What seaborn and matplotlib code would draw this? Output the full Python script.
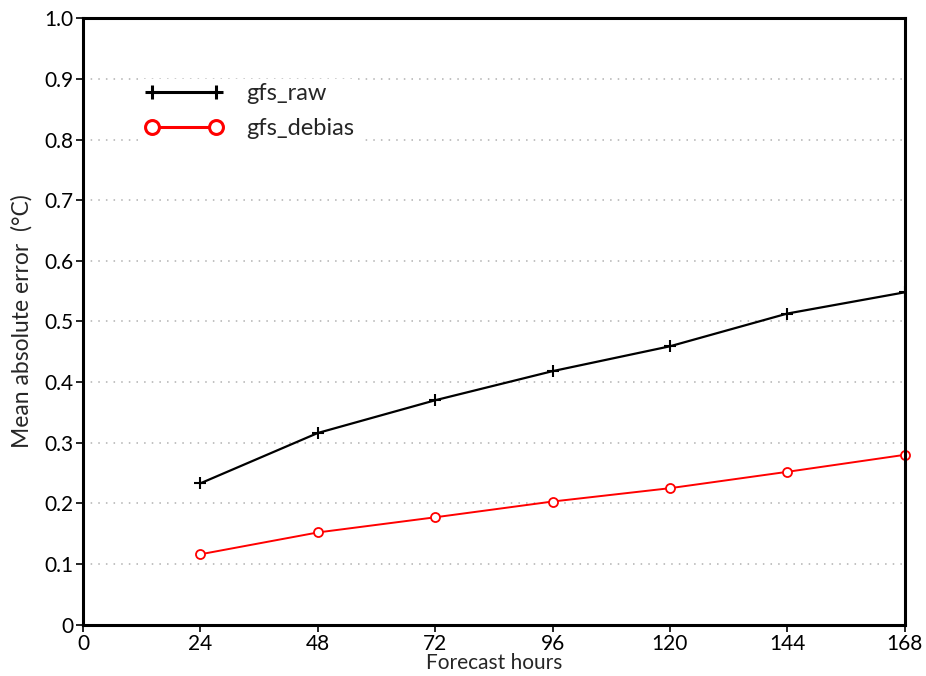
import matplotlib
matplotlib.use("Agg")
import matplotlib.pyplot as plt
import seaborn as sns
import pandas as pd

hours = [24, 48, 72, 96, 120, 144, 168]
gfs_raw = [0.233, 0.316, 0.370, 0.418, 0.459, 0.513, 0.548]
gfs_debias = [0.116, 0.152, 0.177, 0.203, 0.225, 0.252, 0.280]
x_ticks = [0, 24, 48, 72, 96, 120, 144, 168]
y_ticks = [0, 0.1, 0.2, 0.3, 0.4, 0.5, 0.6, 0.7, 0.8, 0.9, 1.0]
y_tick_labels = ["0", "0.1", "0.2", "0.3", "0.4", "0.5", "0.6", "0.7", "0.8", "0.9", "1.0"]

df = pd.DataFrame({"hours": hours, "gfs_raw": gfs_raw, "gfs_debias": gfs_debias})

sns.set_style("white")
plt.rcParams["font.family"] = ["Lato", "DejaVu Sans"]

fig, ax = plt.subplots(figsize=(9.26, 6.76), dpi=100)
fig.subplots_adjust(left=0.0896, right=0.977, top=0.973, bottom=0.076)

for y in y_ticks[1:-1]:
    ax.axhline(y, color="#b0b0b0", lw=1.1, ls=(0, (1, 4)), zorder=0)

sns.lineplot(data=df, x="hours", y="gfs_raw", ax=ax, color="black", lw=1.6,
             marker="+", markersize=9, markeredgecolor="black",
             markeredgewidth=1.5, label="gfs_raw")
sns.lineplot(data=df, x="hours", y="gfs_debias", ax=ax, color="red", lw=1.4,
             marker="o", markersize=6.5, markerfacecolor="white",
             markeredgecolor="red", markeredgewidth=1.3, label="gfs_debias",
             clip_on=False)

ax.set_xlim(0, 168)
ax.set_ylim(0, 1.0)
ax.set_xticks(x_ticks)
ax.set_yticks(y_ticks)
ax.set_yticklabels(y_tick_labels)
ax.tick_params(axis="both", direction="out", length=5, width=1.2, labelsize=15,
               colors="black", bottom=True, left=True, pad=2)
ax.set_xlabel("Forecast hours", fontsize=15)
ax.xaxis.set_label_coords(0.5, -0.047)
ax.set_ylabel("Mean absolute error  (°C)", fontsize=16.5, labelpad=8)
for s in ax.spines.values():
    s.set_linewidth(2.2)
    s.set_color("black")

leg = ax.legend(loc="upper left", bbox_to_anchor=(0.055, 0.92), frameon=True,
                fontsize=17, handlelength=3.3, handletextpad=1.0, numpoints=2,
                labelspacing=0.6, borderpad=0.2)
leg.get_frame().set_edgecolor("white")
leg.get_frame().set_facecolor("white")
leg.get_frame().set_alpha(1)
for h in leg.legend_handles:
    h.set_linewidth(2.2)
    h.set_markersize(10)
    h.set_markeredgewidth(2.2)

fig.savefig("out.png", dpi=100)
